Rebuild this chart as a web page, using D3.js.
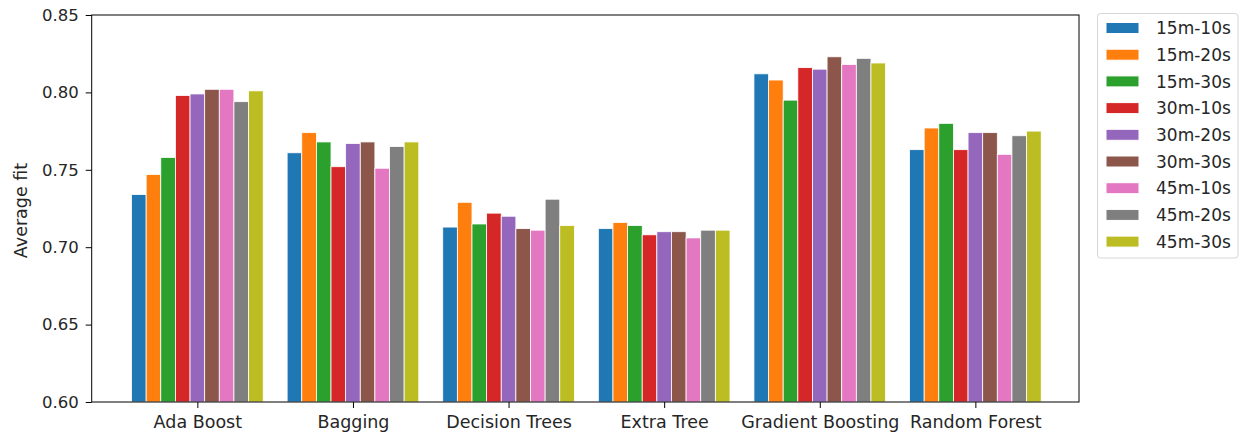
<!DOCTYPE html>
<html>
<head>
<meta charset="utf-8">
<script src="https://cdn.jsdelivr.net/npm/d3@7"></script>
<style>
html,body{margin:0;padding:0;background:#fff;}
svg text{font-family:"DejaVu Sans",sans-serif;fill:#262626;}
</style>
</head>
<body>
<svg id="chart" width="1243" height="436"></svg>
<script>
const categories = ["Ada Boost","Bagging","Decision Trees","Extra Tree","Gradient Boosting","Random Forest"];
const seriesNames = ["15m-10s","15m-20s","15m-30s","30m-10s","30m-20s","30m-30s","45m-10s","45m-20s","45m-30s"];
const s15m10s = [0.734, 0.761, 0.713, 0.712, 0.812, 0.763];
const s15m20s = [0.747, 0.774, 0.729, 0.716, 0.808, 0.777];
const s15m30s = [0.758, 0.768, 0.715, 0.714, 0.795, 0.780];
const s30m10s = [0.798, 0.752, 0.722, 0.708, 0.816, 0.763];
const s30m20s = [0.799, 0.767, 0.720, 0.710, 0.815, 0.774];
const s30m30s = [0.802, 0.768, 0.712, 0.710, 0.823, 0.774];
const s45m10s = [0.802, 0.751, 0.711, 0.706, 0.818, 0.760];
const s45m20s = [0.794, 0.765, 0.731, 0.711, 0.822, 0.772];
const s45m30s = [0.801, 0.768, 0.714, 0.711, 0.819, 0.775];
const yTicks = [0.60, 0.65, 0.70, 0.75, 0.80, 0.85];
const colors = ["#1f77b4","#ff7f0e","#2ca02c","#d62728","#9467bd","#8c564b","#e377c2","#7f7f7f","#bcbd22"];

const seriesValues = [s15m10s,s15m20s,s15m30s,s30m10s,s30m20s,s30m30s,s45m10s,s45m20s,s45m30s];

const svg = d3.select("#chart");
const pLeft = 91.7, pRight = 1079, pTop = 15, pBottom = 402;
const x = d3.scaleLinear().domain([-0.679, 5.666]).range([pLeft, pRight]);
const y = d3.scaleLinear().domain([0.60, 0.85]).range([pBottom, pTop]);
const barW = 0.094;

// bars
seriesValues.forEach((vals, j) => {
  svg.append("g").selectAll("rect").data(vals).join("rect")
    .attr("x", (d, i) => x(i + (j - 4.5) * barW))
    .attr("width", x(barW) - x(0))
    .attr("y", d => y(d))
    .attr("height", d => y(0.60) - y(d))
    .attr("fill", colors[j])
    .attr("stroke", "#fff")
    .attr("stroke-width", 0.8);
});

// axes
const xAxis = d3.axisBottom(x).tickValues(d3.range(categories.length))
  .tickFormat(i => categories[i]).tickSize(6).tickPadding(8);
const gx = svg.append("g").attr("transform", `translate(0,${pBottom})`).call(xAxis);
const yAxis = d3.axisLeft(y).tickValues(yTicks).tickFormat(d3.format(".2f")).tickSize(6).tickPadding(7);
const gy = svg.append("g").attr("transform", `translate(${pLeft},0)`).call(yAxis);
[gx, gy].forEach(g => {
  g.select(".domain").remove();
  g.selectAll(".tick line").attr("stroke", "#000").attr("stroke-width", 1);
  g.selectAll(".tick text").attr("fill", "#262626");
});
gx.selectAll(".tick text").attr("font-size", 17.5);
gy.selectAll(".tick text").attr("font-size", 16.5);

// frame
svg.append("rect").attr("x", pLeft).attr("y", pTop).attr("width", pRight - pLeft).attr("height", pBottom - pTop)
  .attr("fill", "none").attr("stroke", "#000").attr("stroke-width", 1);

// y label
svg.append("text").attr("transform", `translate(27,${(pTop + pBottom) / 2 + 2}) rotate(-90)`)
  .attr("text-anchor", "middle").attr("font-size", 17.5).text("Average fit");

// legend
const lg = svg.append("g");
lg.append("rect").attr("x", 1097.5).attr("y", 13.5).attr("width", 140.5).attr("height", 244.5)
  .attr("rx", 3).attr("fill", "#fff").attr("stroke", "#d6d6d6").attr("stroke-width", 1);
seriesNames.forEach((name, j) => {
  const cy = 28 + j * 26.7;
  lg.append("rect").attr("x", 1106).attr("y", cy - 5.5).attr("width", 33).attr("height", 11)
    .attr("fill", colors[j]).attr("stroke", "#fff").attr("stroke-width", 1);
  lg.append("text").attr("x", 1156).attr("y", cy).attr("dy", "0.36em")
    .attr("font-size", 17).text(name);
});
</script>
</body>
</html>
